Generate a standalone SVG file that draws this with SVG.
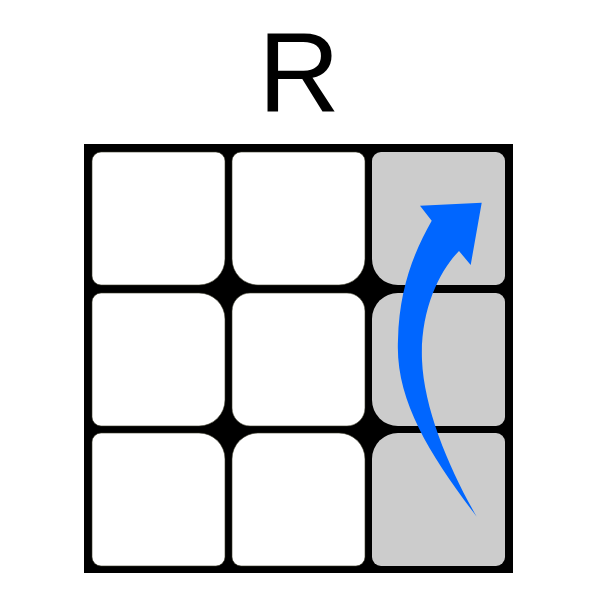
<svg xmlns="http://www.w3.org/2000/svg" width="600" height="600" viewBox="0 0 600 600">
  <style>
    .white { fill: #FFFFFF; stroke: #3a3a2a; stroke-width: 0.6; }
    .gray { fill: #CCCCCC; }
    .title { font-family: "Liberation Sans", Arial, sans-serif; font-size: 113px; fill: #000000; }
  </style>
  <rect width="600" height="600" fill="#FFFFFF"/>
  <text class="title" x="299" y="111" text-anchor="middle">R</text>
  <rect id="face" x="84" y="144" width="429" height="429" fill="#000000"/>
  <g id="cell-0-0"><path class="white" d="M101,152 H216 A9 9 0 0 1 225,161 V259 A26 26 0 0 1 199,285 H101 A9 9 0 0 1 92,276 V161 A9 9 0 0 1 101,152Z"/></g>
  <g id="cell-1-0"><path class="white" d="M241,152 H356 A9 9 0 0 1 365,161 V259 A26 26 0 0 1 339,285 H258 A26 26 0 0 1 232,259 V161 A9 9 0 0 1 241,152Z"/></g>
  <g id="cell-2-0"><path class="gray" d="M381,152 H496 A9 9 0 0 1 505,161 V276 A9 9 0 0 1 496,285 H398 A26 26 0 0 1 372,259 V161 A9 9 0 0 1 381,152Z"/></g>
  <g id="cell-0-1"><path class="white" d="M101,293 H199 A26 26 0 0 1 225,319 V400 A26 26 0 0 1 199,426 H101 A9 9 0 0 1 92,417 V302 A9 9 0 0 1 101,293Z"/></g>
  <g id="cell-1-1"><path class="white" d="M250,293 H347 A18 18 0 0 1 365,311 V408 A18 18 0 0 1 347,426 H250 A18 18 0 0 1 232,408 V311 A18 18 0 0 1 250,293Z"/></g>
  <g id="cell-2-1"><path class="gray" d="M398,293 H496 A9 9 0 0 1 505,302 V417 A9 9 0 0 1 496,426 H398 A26 26 0 0 1 372,400 V319 A26 26 0 0 1 398,293Z"/></g>
  <g id="cell-0-2"><path class="white" d="M101,433 H199 A26 26 0 0 1 225,459 V557 A9 9 0 0 1 216,566 H101 A9 9 0 0 1 92,557 V442 A9 9 0 0 1 101,433Z"/></g>
  <g id="cell-1-2"><path class="white" d="M258,433 H339 A26 26 0 0 1 365,459 V557 A9 9 0 0 1 356,566 H241 A9 9 0 0 1 232,557 V459 A26 26 0 0 1 258,433Z"/></g>
  <g id="cell-2-2"><path class="gray" d="M398,433 H496 A9 9 0 0 1 505,442 V557 A9 9 0 0 1 496,566 H381 A9 9 0 0 1 372,557 V459 A26 26 0 0 1 398,433Z"/></g>
  <g id="connectors">
    <path id="arrow" fill="#0066FF" d="M476.7,516.7 C430,455 395,400 398,340 C399,288 415,250 431.7,220.7 L420,205.7 L481.7,202.7 L470.7,265 L459,251 C440,270 420,310 422,360 C424,410 450,470 476.7,516.7 Z"/>
  </g>
</svg>
